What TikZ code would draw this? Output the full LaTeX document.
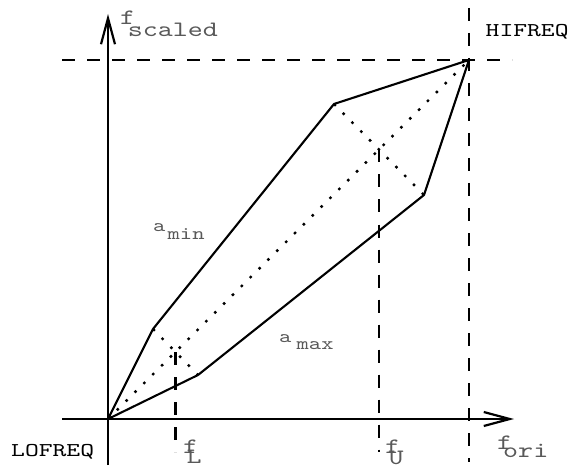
\documentclass[tikz,border=0pt]{standalone}
\usepackage{fontspec}
\newfontfamily\lblfont{lmmono10-regular}[Extension=.otf, FakeStretch=1.3]
\newfontfamily\capsfont{lmmono10-regular}[Extension=.otf, FakeStretch=1.35]
\usetikzlibrary{arrows.meta,calc}
\begin{document}
\begin{tikzpicture}[x=1pt,y=-1pt,
  solidline/.style={line width=2.1pt, line join=round},
  dashline/.style={line width=2.2pt, dash pattern=on 13pt off 12pt},
  dotline/.style={line width=2.4pt, dash pattern=on 2.5pt off 10pt},
  axisline/.style={line width=2.2pt, -{Straight Barb[length=26pt,width=14pt,line width=2.2pt]}},
  lbl/.style={font=\lblfont\fontsize{22}{22}\selectfont, inner sep=0pt, anchor=base west, text=black!65},
  albl/.style={lbl, font=\lblfont\fontsize{18}{18}\selectfont},
  capslbl/.style={lbl, font=\capsfont\fontsize{19.5}{19.5}\selectfont, text=black}]
\useasboundingbox (0,0) rectangle (568,468);
% key points
\coordinate (O) at (108,419);
\coordinate (A1) at (153,329);
\coordinate (A2) at (334,104);
\coordinate (T) at (469,60);
\coordinate (B1) at (198,375);
\coordinate (B2) at (424,195);
\coordinate (ML) at ($(A1)!0.5!(B1)$);
\coordinate (MU) at ($(A2)!0.5!(B2)$);
% axes ends
\coordinate (xs) at (62,419);
\coordinate (xe) at (514,419);
\coordinate (ys) at (108,465);
\coordinate (ye) at (108,14);
\coordinate (hs) at (62,60);
\coordinate (he) at (512,60);
\coordinate (vs) at (469,8);
\coordinate (ve) at (469,462);
\coordinate (fLe) at (175.5,452);
\coordinate (fUe) at (379,452);
% axes
\draw[axisline] (xs) -- (xe);
\draw[axisline] (ys) -- (ye);
% dashed guides
\draw[dashline] (hs) -- (he);
\draw[dashline] (vs) -- (ve);
\draw[dashline] (ML) -- (fLe);
\draw[dashline] (MU) -- (fUe);
% polygon
\draw[solidline] (O) -- (A1) -- (A2) -- (T) -- (B2) -- (B1) -- cycle;
% dotted
\draw[dotline] (O) -- (T);
\draw[dotline] (A1) -- (B1);
\draw[dotline] (A2) -- (B2);
% labels
\node[capslbl] (hifreq) at (485.5,37) {HIFREQ};
\node[capslbl] (lofreq) at (11,456) {LOFREQ};
\node[lbl] (fscaled) at (120,25) {f\kern-7.3pt\raisebox{-12pt}{scaled}};
\node[lbl] (fori) at (497,449) {f\kern-9pt\raisebox{-8pt}{ori}};
\node[lbl] (fL) at (183,453) {f\kern-11.5pt\raisebox{-10pt}{L}};
\node[lbl] (fU) at (385,453) {f\kern-11.5pt\raisebox{-11pt}{U}};
\node[albl] (amin) at (153,232) {a\kern2.2pt\raisebox{-8pt}{min}};
\node[albl] (amax) at (279,342) {a\kern5.2pt\raisebox{-7pt}{max}};
\end{tikzpicture}
\end{document}
